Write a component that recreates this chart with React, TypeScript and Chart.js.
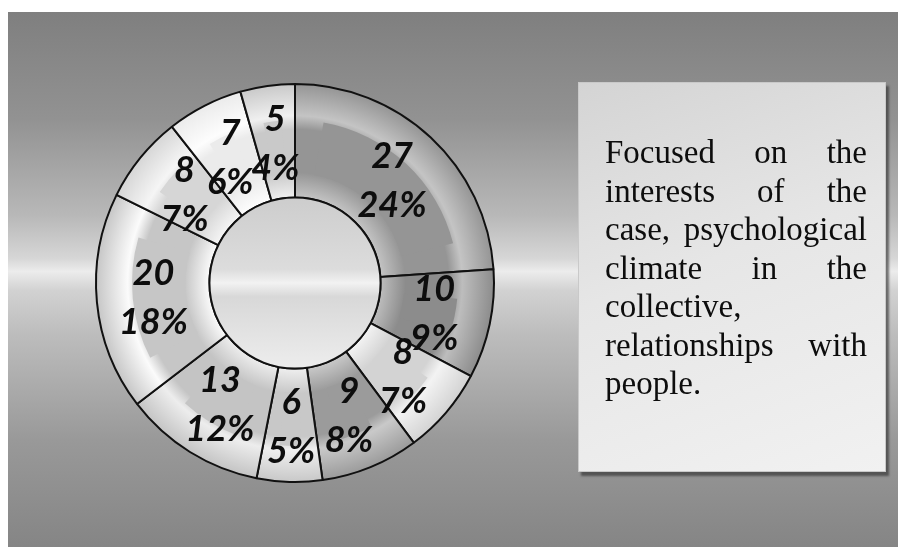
import React, { useEffect, useRef } from "react";
import { Chart, registerables } from "chart.js";

Chart.register(...registerables);

// ---- data ----
const categories = ["S1", "S2", "S3", "S4", "S5", "S6", "S7", "S8", "S9", "S10"];
const values = [27, 10, 8, 9, 6, 13, 20, 8, 7, 5];
const panelColors = ["#959595", "#8c8c8c", "#d3d3d3", "#9b9b9b", "#c8c8c8", "#c4c4c4", "#c6c6c6", "#d6d6d6", "#ebebeb", "#c9c9c9"];
const edgeColors = ["#c4c4c4", "#bdbdbd", "#f3f3f3", "#c9c9c9", "#efefef", "#ededed", "#fbfbfb", "#f5f5f5", "#fdfdfd", "#f0f0f0"];
const boxLines = ["Focused on the", "interests of the", "case, psychological", "climate in the", "collective,", "relationships with", "people."];
const boxJustify = [true, true, true, true, false, true, false];

const total = values.reduce((a, b) => a + b, 0);

const backgroundPlugin = {
  id: "bgPlugin",
  beforeDraw(chart: any) {
    const { ctx, width, height } = chart;
    ctx.save();
    ctx.fillStyle = "#ffffff";
    ctx.fillRect(0, 0, width, height);
    const g = ctx.createLinearGradient(0, 12, 0, height);
    g.addColorStop(0, "#7f7f7f");
    g.addColorStop(0.2, "#929292");
    g.addColorStop(0.38, "#b8b8b8");
    g.addColorStop(0.46, "#d6d6d6");
    g.addColorStop(0.485, "#ececec");
    g.addColorStop(0.52, "#d2d2d2");
    g.addColorStop(0.6, "#bdbdbd");
    g.addColorStop(0.8, "#999999");
    g.addColorStop(1, "#858585");
    ctx.fillStyle = g;
    ctx.fillRect(8, 12, width - 8, height - 12);
    ctx.restore();
  },
};

const decorPlugin = {
  id: "decorPlugin",
  afterDatasetsDraw(chart: any) {
    const { ctx } = chart;
    const meta = chart.getDatasetMeta(0);
    const arcs = meta.data;
    ctx.save();
    // inset panels (bevel effect)
    arcs.forEach((arc: any, i: number) => {
      const { x, y, startAngle, endAngle, innerRadius, outerRadius } = arc.getProps(
        ["x", "y", "startAngle", "endAngle", "innerRadius", "outerRadius"],
        true
      );
      const rIn = innerRadius + 24;
      const rOut = outerRadius - 36;
      const span = endAngle - startAngle;
      const midR = (rIn + rOut) / 2;
      let inset = 24 / midR;
      if (inset > span * 0.3) inset = span * 0.3;
      const a0 = startAngle + inset;
      const a1 = endAngle - inset;
      ctx.beginPath();
      ctx.arc(x, y, rOut, a0, a1, false);
      ctx.arc(x, y, rIn, a1, a0, true);
      ctx.closePath();
      ctx.fillStyle = panelColors[i];
      ctx.fill();
    });
    // inner circle
    const a0: any = arcs[0];
    if (a0) {
      const { x, y, innerRadius } = a0.getProps(["x", "y", "innerRadius"], true);
      const g = ctx.createLinearGradient(0, y - innerRadius, 0, y + innerRadius);
      g.addColorStop(0, "#cdcdcd");
      g.addColorStop(0.42, "#dcdcdc");
      g.addColorStop(0.5, "#f2f2f2");
      g.addColorStop(0.58, "#d8d8d8");
      g.addColorStop(1, "#ededed");
      ctx.beginPath();
      ctx.arc(x, y, innerRadius, 0, Math.PI * 2);
      ctx.fillStyle = g;
      ctx.fill();
      ctx.lineWidth = 2;
      ctx.strokeStyle = "#111111";
      ctx.stroke();
    }
    // labels
    ctx.font = "italic bold 36px Lato, 'Open Sans', sans-serif";
    ctx.fillStyle = "#0d0d0d";
    ctx.textAlign = "center";
    ctx.textBaseline = "middle";
    arcs.forEach((arc: any, i: number) => {
      const p = arc.tooltipPosition(true);
      const v = values[i];
      const pct = Math.round((v / total) * 100) + "%";
      ctx.fillText(String(v), p.x, p.y - 23);
      ctx.fillText(pct, p.x, p.y + 26);
    });
    ctx.restore();
  },
};

export default function App() {
  const ref = useRef<HTMLCanvasElement | null>(null);

  useEffect(() => {
    if (!ref.current) return;
    const chart = new Chart(ref.current, {
      type: "doughnut",
      data: {
        labels: categories,
        datasets: [
          {
            data: values,
            borderColor: "#111111",
            borderWidth: 2,
            backgroundColor: (c: any) => {
              const i = c.dataIndex;
              const ch = c.chart;
              const meta = ch.getDatasetMeta(0);
              const ctrl: any = meta && meta.controller;
              const area = ch.chartArea;
              if (!ctrl || !area || !ctrl.outerRadius) return edgeColors[i];
              const cx = (area.left + area.right) / 2;
              const cy = (area.top + area.bottom) / 2;
              const g = ch.ctx.createRadialGradient(cx, cy, ctrl.innerRadius, cx, cy, ctrl.outerRadius);
              g.addColorStop(0, edgeColors[i]);
              g.addColorStop(0.22, panelColors[i]);
              g.addColorStop(0.6, panelColors[i]);
              g.addColorStop(0.72, edgeColors[i]);
              g.addColorStop(1, panelColors[i]);
              return g;
            },
          },
        ],
      },
      options: {
        responsive: false,
        animation: false,
        devicePixelRatio: 1,
        cutout: "43%",
        layout: { padding: { left: 95, top: 83, right: 403, bottom: 64 } },
        plugins: {
          legend: { display: false },
          tooltip: { enabled: false },
        },
      },
      plugins: [backgroundPlugin, decorPlugin],
    } as any);
    return () => chart.destroy();
  }, []);

  return (
    <div style={{ position: "absolute", left: 0, top: 0, width: 898, height: 547, overflow: "hidden" }}>
      <canvas ref={ref} width={898} height={547} style={{ position: "absolute", left: 0, top: 0 }} />
      <div
        style={{
          position: "absolute",
          left: 578,
          top: 82,
          width: 308,
          height: 390,
          boxSizing: "border-box",
          border: "1px solid #c9c9c9",
          background: "linear-gradient(160deg, #d4d4d4 0%, #e6e6e6 45%, #f1f1f1 100%)",
          boxShadow: "3px 4px 2px rgba(50,50,50,0.65)",
        }}
      >
        <div
          style={{
            position: "absolute",
            left: 26,
            top: 50,
            width: 262,
            fontFamily: "'Liberation Serif', 'Times New Roman', serif",
            fontSize: 33,
            lineHeight: "38.5px",
            color: "#0d0d0d",
          }}
        >
          {boxLines.map((line, i) => (
            <div
              key={i}
              style={{
                textAlign: boxJustify[i] ? "justify" : "left",
                textAlignLast: boxJustify[i] ? "justify" : "left",
              } as any}
            >
              {line}
            </div>
          ))}
        </div>
      </div>
    </div>
  );
}
